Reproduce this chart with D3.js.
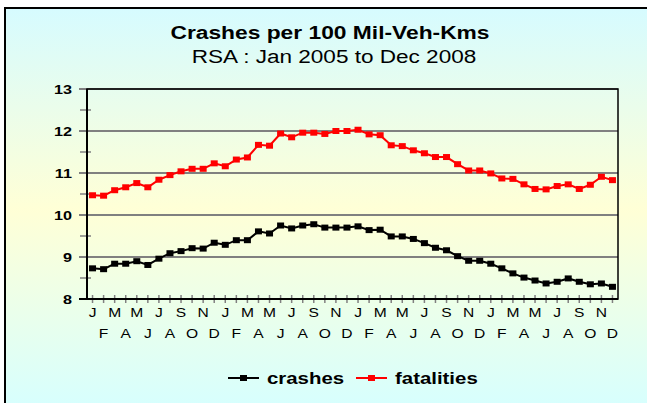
<!DOCTYPE html>
<html>
<head>
<meta charset="utf-8">
<script src="https://cdn.jsdelivr.net/npm/d3@7/dist/d3.min.js"></script>
<style>
  body { margin: 0; background: #fff; }
  svg { display: block; font-family: "Liberation Sans", Arial, sans-serif; }
</style>
</head>
<body>
<div id="chart"></div>
<script>
// monthly values, Jan 2005 .. Dec 2008
var monthLetters = ["J","F","M","A","M","J","J","A","S","O","N","D"];
var crashes = [
  8.73, 8.71, 8.84, 8.84, 8.90, 8.81, 8.96, 9.09, 9.14, 9.21, 9.20, 9.34,
  9.29, 9.40, 9.40, 9.61, 9.56, 9.75, 9.68, 9.75, 9.78, 9.70, 9.70, 9.70,
  9.73, 9.64, 9.65, 9.49, 9.49, 9.43, 9.33, 9.22, 9.16, 9.02, 8.91, 8.91,
  8.84, 8.73, 8.61, 8.51, 8.44, 8.37, 8.41, 8.49, 8.41, 8.35, 8.37, 8.29
];
var fatalities = [
  10.47, 10.46, 10.59, 10.66, 10.76, 10.66, 10.84, 10.95, 11.04, 11.10, 11.10, 11.23,
  11.16, 11.32, 11.37, 11.67, 11.65, 11.94, 11.85, 11.96, 11.96, 11.93, 12.00, 12.00,
  12.03, 11.92, 11.90, 11.66, 11.64, 11.54, 11.47, 11.38, 11.38, 11.21, 11.06, 11.06,
  10.99, 10.87, 10.86, 10.73, 10.62, 10.61, 10.69, 10.73, 10.62, 10.72, 10.91, 10.83
];
var yTicks = [8, 9, 10, 11, 12, 13];
var seriesNames = ["crashes", "fatalities"];
var seriesColors = ["#000000", "#ff0000"];

var width = 647, height = 403,
    plot = {left: 87, right: 618, top: 89, bottom: 299},
    stretch = 1.2;

var months = d3.range(crashes.length);

var x = d3.scaleBand().domain(months).range([plot.left, plot.right]).padding(0);
var y = d3.scaleLinear().domain([8, 13]).range([plot.bottom, plot.top]);
function cx(i) { return x(i) + x.bandwidth() / 2; }

var svg = d3.select("#chart").append("svg")
    .attr("width", width)
    .attr("height", height);

var defs = svg.append("defs");
var grad = defs.append("linearGradient")
    .attr("id", "bg")
    .attr("x1", 0).attr("y1", 0).attr("x2", 0).attr("y2", 1);
grad.append("stop").attr("offset", "0%").attr("stop-color", "#d6fbff");
grad.append("stop").attr("offset", "50%").attr("stop-color", "#ffffd6");
grad.append("stop").attr("offset", "100%").attr("stop-color", "#d6ffff");

// chart area, cropped on the right and bottom
svg.append("rect")
    .attr("x", 5).attr("y", 8)
    .attr("width", width).attr("height", height)
    .attr("fill", "url(#bg)")
    .attr("stroke", "#000")
    .attr("stroke-width", 2);

// stretched text helper (the original picture is wider than tall)
function label(g, tx, ty, txt, size, weight, anchor) {
  return g.append("text")
    .attr("transform", "translate(" + tx + "," + ty + ") scale(" + stretch + ",1)")
    .attr("text-anchor", anchor || "middle")
    .attr("font-size", size)
    .attr("font-weight", weight || "normal")
    .attr("fill", "#000")
    .text(txt);
}

label(svg, 330, 39, "Crashes per 100 Mil-Veh-Kms", 19, "bold");
label(svg, 334, 63, "RSA : Jan 2005 to Dec 2008", 18.8, "normal");

// gridlines
var g = svg.append("g");
g.selectAll("line.grid")
  .data(yTicks)
  .enter().append("line")
    .attr("class", "grid")
    .attr("x1", plot.left - 8).attr("x2", plot.right)
    .attr("y1", function(d) { return y(d); })
    .attr("y2", function(d) { return y(d); })
    .attr("stroke", "#808080")
    .attr("stroke-width", 2);

// minor y ticks
g.selectAll("line.minor")
  .data(d3.range(8.5, 13, 1))
  .enter().append("line")
    .attr("x1", plot.left - 7).attr("x2", plot.left + 4)
    .attr("y1", function(d) { return y(d); })
    .attr("y2", function(d) { return y(d); })
    .attr("stroke", "#808080")
    .attr("stroke-width", 1.5);

// x ticks at each month
g.selectAll("line.xtick")
  .data(months)
  .enter().append("line")
    .attr("x1", cx).attr("x2", cx)
    .attr("y1", plot.bottom - 4).attr("y2", plot.bottom + 4)
    .attr("stroke", "#808080")
    .attr("stroke-width", 1.5);

// plot frame
g.append("rect")
  .attr("x", plot.left).attr("y", plot.top)
  .attr("width", plot.right - plot.left)
  .attr("height", plot.bottom - plot.top)
  .attr("fill", "none")
  .attr("stroke", "#000")
  .attr("stroke-width", 1.5);
g.append("line")
  .attr("x1", plot.left - 8).attr("x2", plot.right)
  .attr("y1", plot.bottom).attr("y2", plot.bottom)
  .attr("stroke", "#000").attr("stroke-width", 2);
g.append("line")
  .attr("x1", plot.left).attr("x2", plot.left)
  .attr("y1", plot.top).attr("y2", plot.bottom)
  .attr("stroke", "#000").attr("stroke-width", 2);

// y labels
yTicks.forEach(function(d) {
  label(g, 72, y(d) + 5, d, 13.5, "bold", "end");
});

// x labels: alternating two rows
months.forEach(function(i) {
  var row = i % 2;
  label(g, cx(i), row ? 338 : 317, monthLetters[i % 12], 13, "normal");
});

// series
var line = d3.line().x(function(d, i) { return cx(i); }).y(function(d) { return y(d); });
[crashes, fatalities].forEach(function(data, k) {
  var s = g.append("g");
  s.append("path")
    .datum(data)
    .attr("d", line)
    .attr("fill", "none")
    .attr("stroke", seriesColors[k])
    .attr("stroke-width", 2);
  s.selectAll("rect")
    .data(data)
    .enter().append("rect")
      .attr("x", function(d, i) { return cx(i) - 3.5; })
      .attr("y", function(d) { return y(d) - 3; })
      .attr("width", 7).attr("height", 6)
      .attr("fill", seriesColors[k]);
});

// legend
var legend = svg.append("g");
var legendX = [228, 356];
seriesNames.forEach(function(name, k) {
  var lx = legendX[k];
  legend.append("line")
    .attr("x1", lx).attr("x2", lx + 31)
    .attr("y1", 378).attr("y2", 378)
    .attr("stroke", seriesColors[k]).attr("stroke-width", 2);
  legend.append("rect")
    .attr("x", lx + 12).attr("y", 375)
    .attr("width", 7).attr("height", 6)
    .attr("fill", seriesColors[k]);
  label(legend, lx + 39, 384, name, 17, "bold", "start");
});
</script>
</body>
</html>
